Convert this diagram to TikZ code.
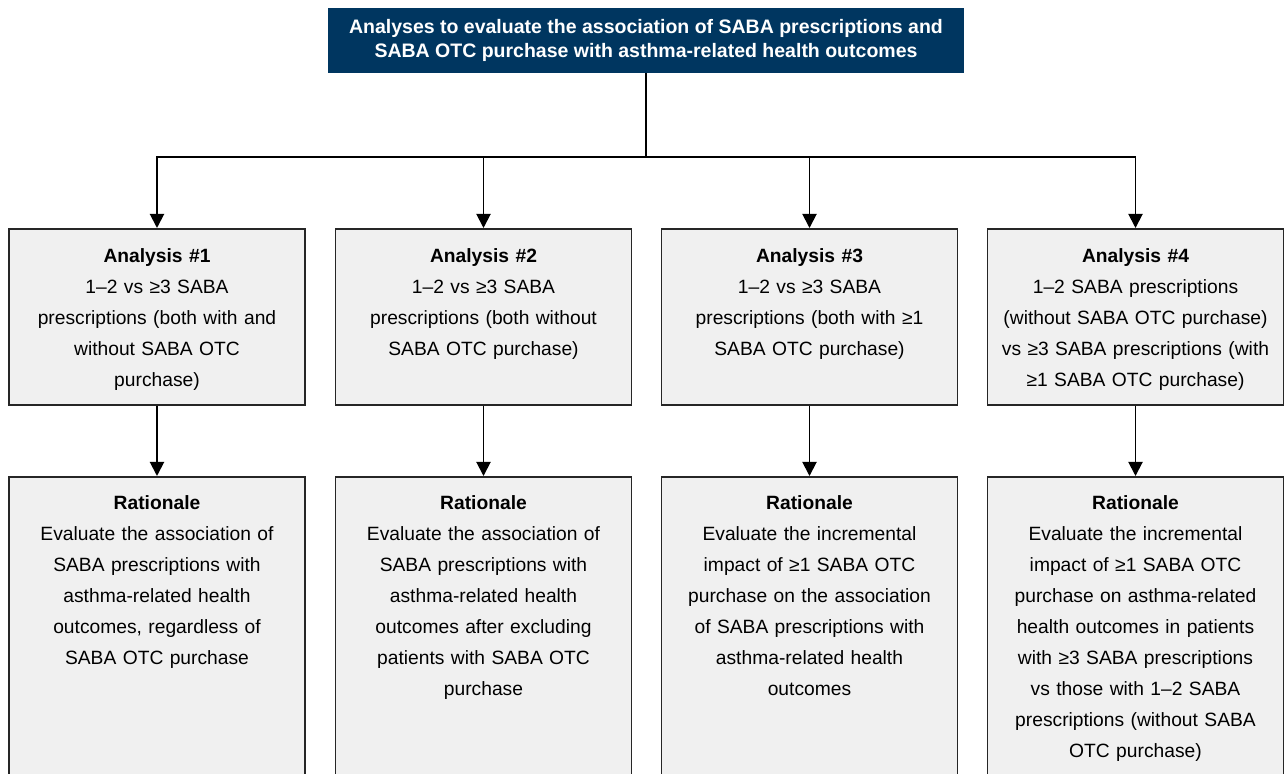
\documentclass[tikz,border=0pt]{standalone}
\usepackage{fontspec}
\setmainfont{Liberation Sans}
\usetikzlibrary{arrows.meta}
\definecolor{titleblue}{HTML}{003660}
\definecolor{boxgray}{HTML}{F0F0F0}

\begin{document}
\begin{tikzpicture}[x=0.02cm, y=-0.02cm,
	abox/.style={draw=black!85, fill=boxgray, line width=1pt, anchor=north, minimum width=5.92cm, inner sep=0pt},
	btext/.style={anchor=north, inner sep=0pt, text width=5.8cm, align=center, font=\fontsize{10.95}{17.6}\selectfont},
	arr/.style={-{Triangle[width=8pt,length=8pt]}, line width=1.1pt}]
				\useasboundingbox (0, 0) rectangle (1286, 774);
				\node[fill=titleblue, text=white, align=center, minimum width=12.72cm, minimum height=1.3cm, inner sep=0pt,
					font=\fontsize{11.1}{13.6}\selectfont\bfseries] (title) at (646, 40.5)
					{Analyses to evaluate the association of SABA prescriptions and\\SABA OTC purchase with asthma-related health outcomes};
				\coordinate (bus) at (646, 157);
				\node[abox, minimum height=3.52cm] (ana1) at (157, 228) {};
				\node[abox, minimum height=3.52cm] (ana2) at (483.5, 228) {};
				\node[abox, minimum height=3.52cm] (ana3) at (809.5, 228) {};
				\node[abox, minimum height=3.52cm] (ana4) at (1135.5, 228) {};
				\node[abox, minimum height=6.4cm] (rat1) at (157, 476) {};
				\node[abox, minimum height=6.4cm] (rat2) at (483.5, 476) {};
				\node[abox, minimum height=6.4cm] (rat3) at (809.5, 476) {};
				\node[abox, minimum height=6.4cm] (rat4) at (1135.5, 476) {};
				\node[btext] at ([yshift=-0.41cm]ana1.north) {\textbf{Analysis \#1}\\1–2 vs ≥3 SABA\\prescriptions (both with and\\without SABA OTC\\purchase)};
				\node[btext] at ([yshift=-0.41cm]ana2.north) {\textbf{Analysis \#2}\\1–2 vs ≥3 SABA\\prescriptions (both without\\SABA OTC purchase)};
				\node[btext] at ([yshift=-0.41cm]ana3.north) {\textbf{Analysis \#3}\\1–2 vs ≥3 SABA\\prescriptions (both with ≥1\\SABA OTC purchase)};
				\node[btext] at ([yshift=-0.41cm]ana4.north) {\textbf{Analysis \#4}\\1–2 SABA prescriptions\\(without SABA OTC purchase)\\vs ≥3 SABA prescriptions (with\\≥1 SABA OTC purchase)};
				\node[btext] at ([yshift=-0.39cm]rat1.north) {\textbf{Rationale}\\Evaluate the association of\\SABA prescriptions with\\asthma-related health\\outcomes, regardless of\\SABA OTC purchase};
				\node[btext] at ([yshift=-0.39cm]rat2.north) {\textbf{Rationale}\\Evaluate the association of\\SABA prescriptions with\\asthma-related health\\outcomes after excluding\\patients with SABA OTC\\purchase};
				\node[btext] at ([yshift=-0.39cm]rat3.north) {\textbf{Rationale}\\Evaluate the incremental\\impact of ≥1 SABA OTC\\purchase on the association\\of SABA prescriptions with\\asthma-related health\\outcomes};
				\node[btext] at ([yshift=-0.39cm]rat4.north) {\textbf{Rationale}\\Evaluate the incremental\\impact of ≥1 SABA OTC\\purchase on asthma-related\\health outcomes in patients\\with ≥3 SABA prescriptions\\vs those with 1–2 SABA\\prescriptions (without SABA\\OTC purchase)};
				\draw[line width=1.1pt] (title.south) -- (bus);
				\draw[arr] (bus) -| (ana1.north);
				\draw[arr] (bus) -| (ana2.north);
				\draw[arr] (bus) -| (ana3.north);
				\draw[arr] (bus) -| (ana4.north);
				\draw[arr] (ana1) -- (rat1);
				\draw[arr] (ana2) -- (rat2);
				\draw[arr] (ana3) -- (rat3);
				\draw[arr] (ana4) -- (rat4);
			\end{tikzpicture}
\end{document}
